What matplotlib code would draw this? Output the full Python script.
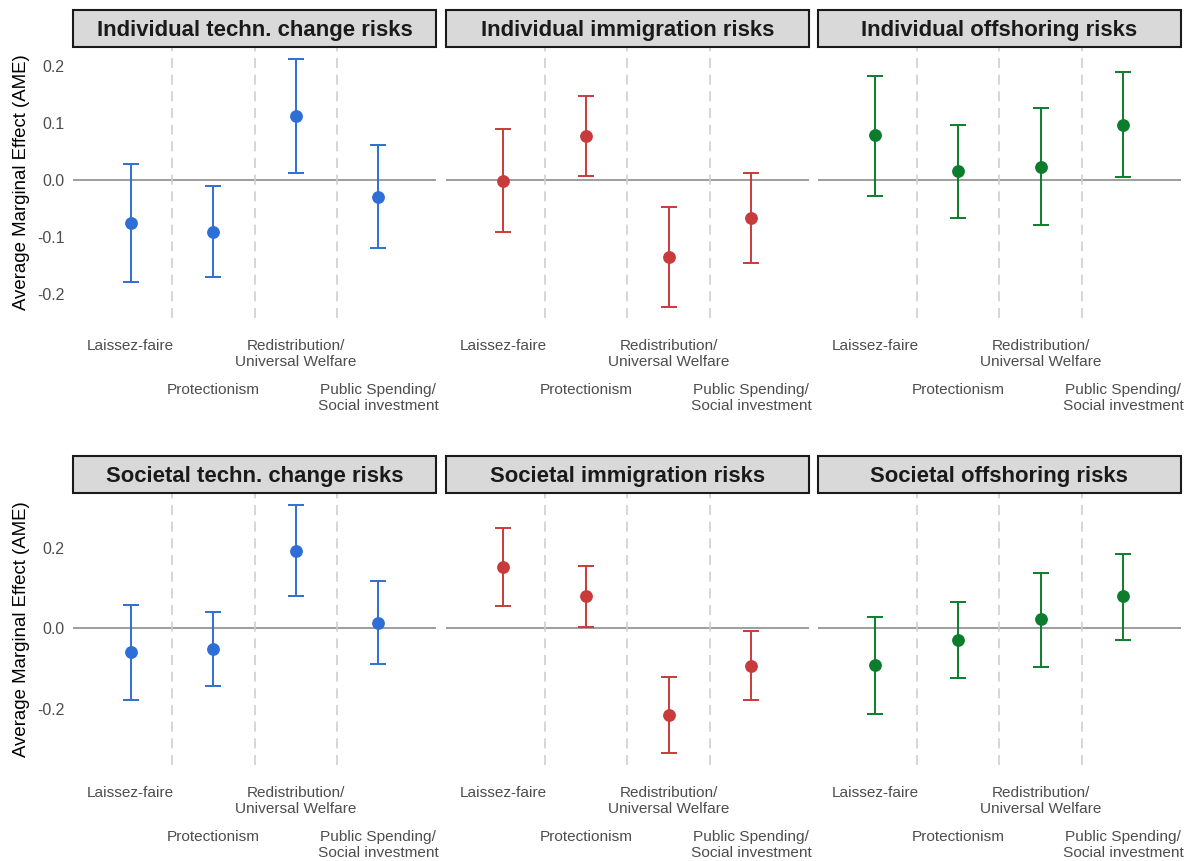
import numpy as np
import matplotlib
matplotlib.use("Agg")
import matplotlib.pyplot as plt
import matplotlib.transforms as mtransforms
from matplotlib.patches import Rectangle

plt.rcParams['font.family'] = ['Liberation Sans', 'DejaVu Sans']

# Policy categories (x axis) and panels
categories = ["Laissez-faire", "Protectionism", "Redistribution/\nUniversal Welfare",
              "Public Spending/\nSocial investment"]
panel_titles = [["Individual techn. change risks", "Individual immigration risks",
                 "Individual offshoring risks"],
                ["Societal techn. change risks", "Societal immigration risks",
                 "Societal offshoring risks"]]

# Estimates and 95% CI bounds, per panel
ind_tech_ame = [-0.076, -0.091, 0.112, -0.030]
ind_tech_lo = [-0.179, -0.171, 0.012, -0.120]
ind_tech_hi = [0.028, -0.011, 0.212, 0.061]

ind_imm_ame = [-0.001, 0.077, -0.135, -0.067]
ind_imm_lo = [-0.092, 0.007, -0.222, -0.146]
ind_imm_hi = [0.089, 0.147, -0.047, 0.012]

ind_off_ame = [0.078, 0.015, 0.023, 0.097]
ind_off_lo = [-0.028, -0.067, -0.079, 0.005]
ind_off_hi = [0.183, 0.096, 0.126, 0.190]

soc_tech_ame = [-0.060, -0.051, 0.193, 0.014]
soc_tech_lo = [-0.178, -0.143, 0.080, -0.088]
soc_tech_hi = [0.058, 0.041, 0.306, 0.117]

soc_imm_ame = [0.152, 0.080, -0.215, -0.093]
soc_imm_lo = [0.055, 0.004, -0.309, -0.178]
soc_imm_hi = [0.249, 0.155, -0.121, -0.008]

soc_off_ame = [-0.092, -0.029, 0.022, 0.079]
soc_off_lo = [-0.214, -0.123, -0.096, -0.028]
soc_off_hi = [0.029, 0.065, 0.138, 0.185]

panels = [[(ind_tech_ame, ind_tech_lo, ind_tech_hi),
           (ind_imm_ame, ind_imm_lo, ind_imm_hi),
           (ind_off_ame, ind_off_lo, ind_off_hi)],
          [(soc_tech_ame, soc_tech_lo, soc_tech_hi),
           (soc_imm_ame, soc_imm_lo, soc_imm_hi),
           (soc_off_ame, soc_off_lo, soc_off_hi)]]

colors = ["#2d6fd6", "#c93b3b", "#0b7d2c"]
ylims = [(-0.242, 0.233), (-0.34, 0.337)]
yticks = [[-0.2, -0.1, 0.0, 0.1, 0.2], [-0.2, 0.0, 0.2]]

W, H = 1191, 861
fig = plt.figure(figsize=(W / 100, H / 100), dpi=100)
fig.patch.set_facecolor("white")

cols_px = [(73, 436), (445.7, 809), (817.7, 1181)]
rows_px = [(47, 318), (492.7, 765)]
strip_h = 37

x = np.arange(1, len(categories) + 1)

for r in range(2):
    top, bot = rows_px[r]
    for c in range(3):
        left, right = cols_px[c]
        ax = fig.add_axes([left / W, 1 - bot / H, (right - left) / W, (bot - top) / H])
        ame, lo, hi = (np.array(v) for v in panels[r][c])
        col = colors[c]

        ax.axhline(0, color="#8c8c8c", lw=1.2, zorder=1)
        for xv in [1.5, 2.5, 3.5]:
            ax.axvline(xv, color="#cfcfcf", lw=1.2, ls=(0, (6, 4)), zorder=1)

        ax.errorbar(x, ame, yerr=[ame - lo, hi - ame], fmt="o", color=col,
                    ms=8.2, lw=1.4, capsize=5.6, capthick=1.4, zorder=3)

        ax.set_xlim(0.3, 4.7)
        ax.set_ylim(*ylims[r])
        ax.set_xticks([])
        ax.set_yticks(yticks[r])
        for s in ax.spines.values():
            s.set_visible(False)
        ax.tick_params(axis="y", length=0, pad=6, labelsize=11.4, colors="#4d4d4d")
        if c == 0:
            ax.set_yticklabels([f"{v:.1f}" for v in yticks[r]])
            ax.set_ylabel("Average Marginal Effect (AME)", fontsize=13.4, color="black",
                          labelpad=5)
        else:
            ax.set_yticklabels([])

        # staggered category labels
        trans = mtransforms.blended_transform_factory(ax.transData, ax.transAxes)
        for i, lab in enumerate(categories):
            yoff = -21 if i % 2 == 0 else -65
            ax.annotate(lab, xy=(x[i], 0), xycoords=trans, xytext=(0, yoff),
                        textcoords="offset pixels", ha="center", va="top",
                        fontsize=11.1, color="#4d4d4d", linespacing=1.2,
                        annotation_clip=False)

        # facet strip
        sax = fig.add_axes([left / W, 1 - top / H, (right - left) / W, strip_h / H])
        sax.set_xlim(0, 1)
        sax.set_ylim(0, 1)
        sax.axis("off")
        sax.add_patch(Rectangle((0, 0), 1, 1, facecolor="#d9d9d9", edgecolor="#1a1a1a",
                                lw=1.5, transform=sax.transAxes, clip_on=False))
        sax.text(0.5, 0.45, panel_titles[r][c], ha="center", va="center",
                 fontsize=15.9, fontweight="bold", color="#1a1a1a")

fig.savefig("out.png", dpi=100, facecolor="white")
